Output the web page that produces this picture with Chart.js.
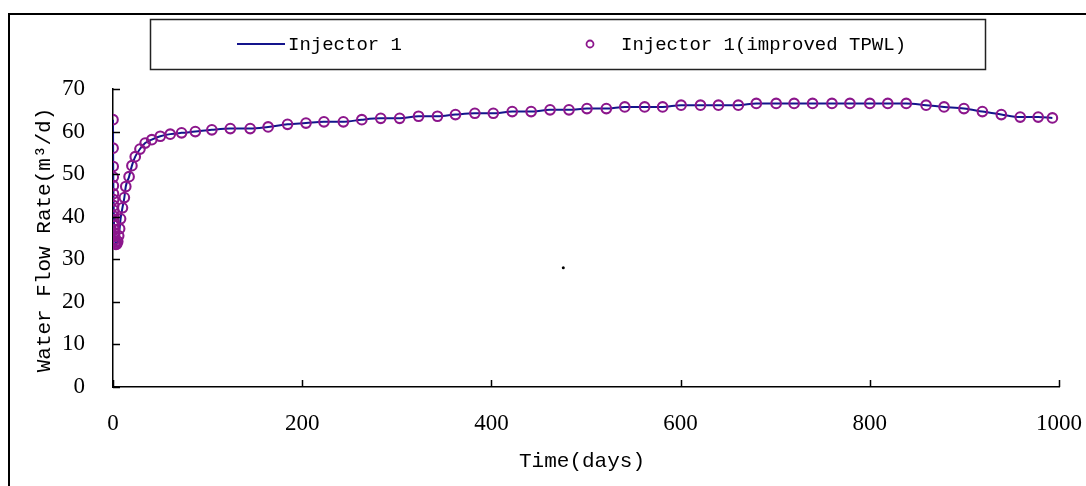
<!DOCTYPE html>
<html>
<head>
<meta charset="utf-8">
<script src="https://cdn.jsdelivr.net/npm/chart.js@4/dist/chart.umd.min.js"></script>
<style>
  html, body { margin: 0; padding: 0; background: #fff; }
  #wrap { width: 1086px; height: 486px; }
</style>
</head>
<body>
<div id="wrap"><canvas id="myChart" width="1086" height="486"></canvas></div>
<script>
// time (days) and water flow rate (m3/d)
const days = [
  0, 0.1, 0.2, 0.3, 0.4, 0.5, 0.6, 0.7, 0.8, 0.9, 1.0, 1.2, 1.4, 1.6, 1.8, 2.0, 2.4, 2.8, 3.2,
  4, 5, 6, 7, 8, 10, 12, 13.5, 17, 20, 23.5, 28.5, 34, 41, 50, 60.5, 72.5, 87,
  104.5, 124, 145, 164, 184.5, 204, 223, 243.5, 263, 283, 303, 323, 343, 362, 382.5,
  402, 422, 442, 462, 482, 501, 521.5, 541, 562, 581, 600.5, 621, 640, 661, 680,
  701, 720, 739.5, 760, 779, 800, 819, 838.5, 859.5, 878.5, 899.5, 919, 939, 959, 978, 993
];
const rate = [
  62.8, 56.1, 51.8, 49.3, 47.3, 45.4, 44.0, 42.6, 41.5, 40.1, 39.0, 38.0, 37.0, 36.2, 35.4, 34.7, 34.1, 33.7, 33.5,
  33.6, 34.2, 35.5, 37.2, 39.5, 42.1, 44.5, 47.1, 49.4, 52.0, 54.1, 55.9, 57.3, 58.1, 58.9, 59.4, 59.7, 60.0,
  60.4, 60.7, 60.7, 61.1, 61.7, 62.0, 62.3, 62.3, 62.8, 63.1, 63.1, 63.6, 63.6, 64.0, 64.3,
  64.3, 64.7, 64.7, 65.1, 65.1, 65.4, 65.4, 65.8, 65.8, 65.8, 66.2, 66.2, 66.2, 66.2, 66.6,
  66.6, 66.6, 66.6, 66.6, 66.6, 66.6, 66.6, 66.6, 66.2, 65.8, 65.4, 64.7, 64.0, 63.4, 63.4, 63.2
];
// the stray dot in the middle of the plot
const strayDays = [476];
const strayRate = [28];

const xTicks = [0, 200, 400, 600, 800, 1000];
const yTicks = [0, 10, 20, 30, 40, 50, 60, 70];

const lineColor = "#14148c";
const markColor = "#8c168c";
const serif = "'Liberation Serif', serif";
const mono = "'Liberation Mono', monospace";

function toPoints(xs, ys) {
  return xs.map((x, i) => ({ x: x, y: ys[i] }));
}

// white page, frame, inner ticks, legend and axis titles
const decorations = {
  id: "decorations",
  beforeDraw(chart) {
    const c = chart.ctx;
    c.save();
    c.fillStyle = "#fff";
    c.fillRect(0, 0, chart.width, chart.height);
    c.restore();
  },
  afterDraw(chart) {
    const c = chart.ctx;
    const xs = chart.scales.x;
    const ys = chart.scales.y;
    const area = chart.chartArea;
    c.save();

    // outer frame (right and bottom edges lie off the page)
    c.strokeStyle = "#000";
    c.lineWidth = 2;
    c.beginPath();
    c.moveTo(9, 500);
    c.lineTo(9, 14);
    c.lineTo(1090, 14);
    c.stroke();

    // tick marks pointing into the plot
    c.lineWidth = 1.5;
    c.beginPath();
    yTicks.forEach((v) => {
      const py = Math.round(ys.getPixelForValue(v)) + 0.5;
      c.moveTo(area.left, py);
      c.lineTo(area.left + 7, py);
    });
    xTicks.forEach((v) => {
      const px = Math.round(xs.getPixelForValue(v)) + 0.5;
      c.moveTo(px, area.bottom);
      c.lineTo(px, area.bottom - 7);
    });
    c.stroke();

    // legend box
    c.strokeStyle = "#222";
    c.lineWidth = 1.5;
    c.strokeRect(150.5, 19.5, 835, 50);
    c.strokeStyle = lineColor;
    c.lineWidth = 2;
    c.beginPath();
    c.moveTo(237, 44);
    c.lineTo(285, 44);
    c.stroke();
    c.strokeStyle = markColor;
    c.lineWidth = 1.8;
    c.beginPath();
    c.arc(590, 44, 3.5, 0, Math.PI * 2);
    c.stroke();
    c.fillStyle = "#000";
    c.font = "19px " + mono;
    c.textBaseline = "middle";
    c.textAlign = "left";
    c.fillText("Injector 1", 288, 45);
    c.fillText("Injector 1(improved TPWL)", 621, 45);

    // axis titles
    c.font = "21px " + mono;
    c.textAlign = "center";
    c.fillText("Time(days)", 582, 461);
    c.translate(44, 240);
    c.rotate(-Math.PI / 2);
    c.fillText("Water Flow Rate(m\u00b3/d)", 0, 0);
    c.restore();
  },
};

const ctx = document.getElementById("myChart");

new Chart(ctx, {
  type: "scatter",
  data: {
    datasets: [
      {
        label: "Injector 1(improved TPWL)",
        data: toPoints(days, rate),
        showLine: false,
        pointStyle: "circle",
        pointRadius: 4.8,
        pointBorderWidth: 2.1,
        pointBorderColor: markColor,
        pointBackgroundColor: "rgba(0,0,0,0)",
        order: 1,
      },
      {
        label: "Injector 1",
        type: "line",
        data: toPoints(days, rate),
        borderColor: lineColor,
        borderWidth: 2,
        pointRadius: 0,
        cubicInterpolationMode: "monotone",
        fill: false,
        order: 2,
      },
      {
        label: "dot",
        data: toPoints(strayDays, strayRate),
        pointRadius: 1.5,
        pointBorderWidth: 0,
        pointBackgroundColor: "#000",
        order: 3,
      },
    ],
  },
  options: {
    responsive: false,
    animation: false,
    devicePixelRatio: 1,
    layout: { padding: { left: 0, top: 89, right: 27, bottom: 0 } },
    plugins: {
      legend: { display: false },
      tooltip: { enabled: false },
    },
    scales: {
      x: {
        type: "linear",
        min: 0,
        max: 1000,
        afterBuildTicks: (s) => { s.ticks = xTicks.map((v) => ({ value: v })); },
        afterFit: (s) => {
          s.height = 99;
          s.paddingLeft = 0;
          s.paddingRight = 0;
        },
        ticks: {
          color: "#000",
          font: { family: serif, size: 23 },
          padding: 15,
          maxRotation: 0,
          callback: (v) => String(v),
        },
        grid: { display: false },
        border: { display: true, color: "#000", width: 1.5 },
      },
      y: {
        type: "linear",
        min: 0,
        max: 70,
        afterBuildTicks: (s) => { s.ticks = yTicks.map((v) => ({ value: v })); },
        afterFit: (s) => {
          s.width = 113;
          s.paddingTop = 0;
          s.paddingBottom = 0;
        },
        ticks: {
          color: "#000",
          font: { family: serif, size: 23 },
          padding: 20,
        },
        grid: { display: false },
        border: { display: true, color: "#000", width: 1.5 },
      },
    },
  },
  plugins: [decorations],
});
</script>
</body>
</html>
